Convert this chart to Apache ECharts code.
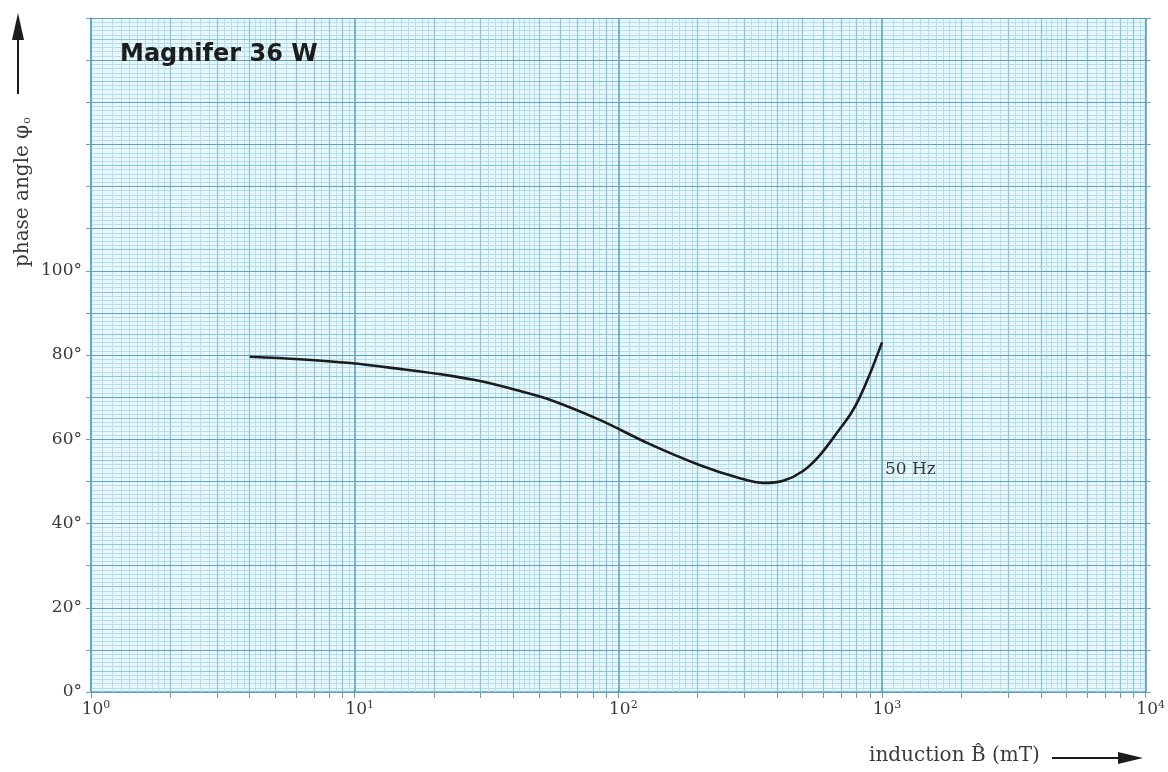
<!DOCTYPE html>
<html>
<head>
<meta charset="utf-8">
<style>
  html, body { margin: 0; padding: 0; background: #ffffff; }
  #chart { width: 1168px; height: 772px; }
</style>
<script src="https://cdn.jsdelivr.net/npm/echarts@6/dist/echarts.min.js"></script>
</head>
<body>
<div id="chart"></div>
<script>
// ---- data ----
const chartTitle = 'Magnifer 36 W';
const curveLabel = '50 Hz';
const xAxisName = 'induction B\u0302 (mT)';
const yAxisName = 'phase angle \u03c6';
const inductionMT = [4, 6.2, 9.6, 14.8, 22.9, 30.5, 41, 55, 85, 131, 203, 287, 357, 425, 500, 577, 687, 760, 818, 893, 1000];
const phaseDeg    = [79.6, 79.0, 78.1, 76.7, 75.1, 73.7, 71.7, 69.4, 64.6, 58.9, 53.9, 50.8, 49.6, 50.2, 52.4, 56.0, 62.2, 66.0, 69.6, 75.0, 83];
const xDecades = [1, 10, 100, 1000, 10000];
const xMantissaMajor = [2, 3, 4, 5, 6, 7, 8, 9];
const xMantissaMinor = [1.1, 1.2, 1.3, 1.4, 1.5, 1.6, 1.7, 1.8, 1.9, 2.2, 2.4, 2.6, 2.8, 3.2, 3.4, 3.6, 3.8, 4.2, 4.4, 4.6, 4.8, 5.5, 6.5, 7.5, 8.5, 9.5];
const yMin = 0, yMax = 160;
const yMinorStep = 1, yMidStep = 5, yMajorStep = 10;
const yLabelStep = 20, yLabelMax = 100;

// ---- styles ----
const cBg = '#e9f7fb';
const cMinor = '#b3e0ec';
const cMid = '#8cc6d8';
const cMajor = '#5ea3bd';
const labelFont = '"DejaVu Serif", "Liberation Serif", serif';
const labelColor = '#3a3a3a';

function scaled(mantissas) {
  const out = [];
  xDecades.slice(0, -1).forEach(d => mantissas.forEach(m => out.push(+(d * m).toPrecision(6))));
  return out;
}
const minorX = scaled(xMantissaMinor);
const majorX = scaled(xMantissaMajor);
const tickX = majorX.concat(xDecades);

function levels(step) {
  const out = [];
  for (let v = yMin; v <= yMax + 1e-9; v += step) out.push(v);
  return out;
}
const yMinorLevels = levels(yMinorStep).filter(v => v % yMidStep !== 0);
const yMidLevels = levels(yMidStep).filter(v => v % yMajorStep !== 0);
const yMajorLevels = levels(yMajorStep);

function vLines(vals, color, width) {
  return vals.map(v => ({ xAxis: v, lineStyle: { color: color, width: width, type: 'solid' } }));
}
function hLines(vals, color, width) {
  return vals.map(v => ({ yAxis: v, lineStyle: { color: color, width: width, type: 'solid' } }));
}

const chart = echarts.init(document.getElementById('chart'), null, { renderer: 'canvas' });

const option = {
  animation: false,
  backgroundColor: '#ffffff',
  grid: { show: true, backgroundColor: cBg, borderWidth: 0, left: 91, right: 21, top: 18, bottom: 80 },
  xAxis: [
    {
      type: 'log', logBase: 10, min: 1, max: 10000, position: 'bottom',
      axisLine: { show: true, lineStyle: { color: cMajor, width: 1.5 } },
      axisTick: { show: true, customValues: tickX, length: 6, lineStyle: { color: cMajor } },
      splitLine: { show: false },
      axisLabel: {
        margin: 8,
        formatter: v => '{b|10}{s|' + Math.round(Math.log10(v)) + '}',
        rich: {
          b: { fontFamily: labelFont, fontSize: 17, color: labelColor, padding: [0, 0, 0, 10] },
          s: { fontFamily: labelFont, fontSize: 11, color: labelColor, padding: [0, 0, 9, 0] }
        }
      }
    },
    {
      type: 'log', logBase: 10, min: 1, max: 10000, position: 'top',
      axisLine: { show: false },
      axisTick: { show: true, customValues: tickX, length: 5, lineStyle: { color: cMajor } },
      splitLine: { show: false },
      axisLabel: { show: false }
    }
  ],
  yAxis: [
    {
      type: 'value', min: yMin, max: yMax, interval: yMajorStep, position: 'left',
      axisLine: { show: true, lineStyle: { color: cMajor, width: 1.5 } },
      axisTick: { show: true, length: 5, lineStyle: { color: cMajor } },
      splitLine: { show: false },
      axisLabel: {
        margin: 9,
        fontFamily: labelFont, fontSize: 17, color: labelColor,
        formatter: v => (v % yLabelStep === 0 && v <= yLabelMax) ? v + '\u00b0' : ''
      }
    },
    {
      type: 'value', min: yMin, max: yMax, interval: yMajorStep, position: 'right',
      axisLine: { show: true, lineStyle: { color: cMajor, width: 1.2 } },
      axisTick: { show: true, length: 5, lineStyle: { color: cMajor } },
      axisLabel: { show: false },
      splitLine: { show: false }
    }
  ],
  series: [
    {
      name: 'grid-lines', type: 'line', xAxisIndex: 0, yAxisIndex: 0,
      data: [[inductionMT[0], phaseDeg[0]]], symbol: 'none', lineStyle: { opacity: 0 },
      silent: true, z: 1,
      markLine: {
        silent: true, symbol: ['none', 'none'], label: { show: false },
        data: hLines(yMinorLevels, cMinor, 1)
          .concat(vLines(minorX, cMinor, 1))
          .concat(hLines(yMidLevels, cMid, 1))
          .concat(vLines(majorX, cMid, 1.2))
          .concat(hLines(yMajorLevels, cMajor, 1.2))
          .concat(vLines(xDecades, cMajor, 1.6))
      }
    },
    {
      name: curveLabel, type: 'line', xAxisIndex: 0, yAxisIndex: 0,
      data: inductionMT.map((x, i) => [x, phaseDeg[i]]),
      smooth: 0.35, symbol: 'none',
      lineStyle: { color: '#1c1c1c', width: 2.6 },
      z: 5
    }
  ],
  graphic: [
    {
      type: 'text', left: 120, top: 43, z: 10,
      style: { text: chartTitle, font: 'bold 24px "DejaVu Sans", sans-serif', fill: '#1c1c1c' }
    },
    {
      type: 'text', left: 885, top: 461, z: 10,
      style: { text: curveLabel, font: '17px ' + labelFont, fill: labelColor }
    },
    {
      type: 'text', left: 869, top: 746, z: 10,
      style: { text: xAxisName, font: '20px ' + labelFont, fill: labelColor }
    },
    {
      type: 'line', z: 10,
      shape: { x1: 1052, y1: 758, x2: 1125, y2: 758 },
      style: { stroke: '#1c1c1c', lineWidth: 2 }
    },
    {
      type: 'polygon', z: 10,
      shape: { points: [[1143, 758], [1118, 752], [1118, 764]] },
      style: { fill: '#1c1c1c' }
    },
    {
      type: 'text', z: 10, x: 12, y: 267, rotation: Math.PI / 2,
      style: {
        text: '{a|' + yAxisName + '}{o|o}',
        rich: {
          a: { font: '20px ' + labelFont, fill: labelColor },
          o: { font: '11px ' + labelFont, fill: labelColor, padding: [10, 0, 0, 1] }
        },
        verticalAlign: 'top'
      }
    },
    {
      type: 'line', z: 10,
      shape: { x1: 18, y1: 94, x2: 18, y2: 34 },
      style: { stroke: '#1c1c1c', lineWidth: 2 }
    },
    {
      type: 'polygon', z: 10,
      shape: { points: [[18, 13], [12, 40], [24, 40]] },
      style: { fill: '#1c1c1c' }
    }
  ]
};
chart.setOption(option);
</script>
</body>
</html>
